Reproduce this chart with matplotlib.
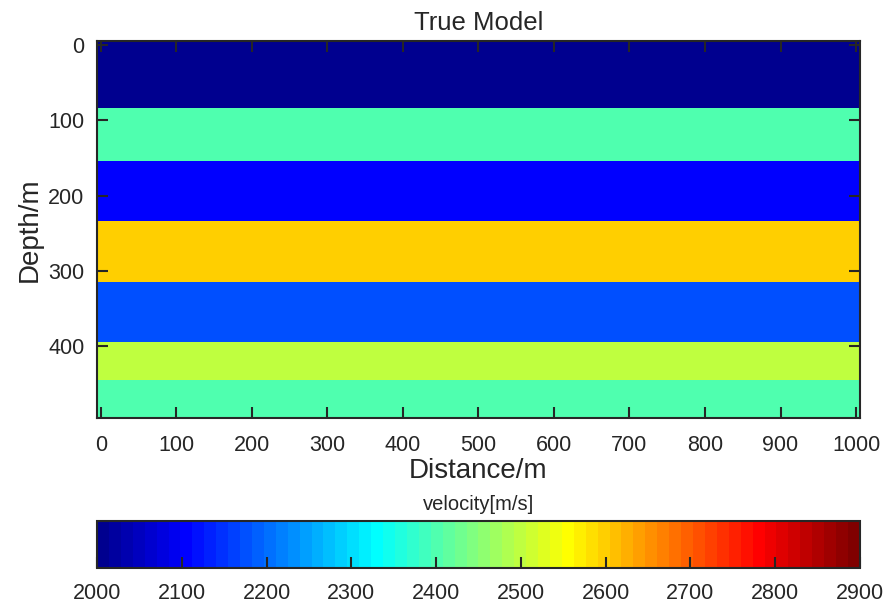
import numpy as np
import matplotlib.pyplot as plt
from matplotlib.colors import ListedColormap

#layered velocity model, 10 m grid
dx = 10
dz = 10
nx_max = 1000
nz_max = 490
#depth of the first grid row of each layer, and its velocity in m/s
layerTops = [0, 90, 160, 240, 320, 400, 450]
layerVel = [2000, 2400, 2100, 2600, 2180, 2500, 2400]

vmin = 2000
vmax = 2900
xTicks = [0, 100, 200, 300, 400, 500, 600, 700, 800, 900, 1000]
zTicks = [0, 100, 200, 300, 400]
cbTicks = [2000, 2100, 2200, 2300, 2400, 2500, 2600, 2700, 2800, 2900]


#matlab style jet with m entries
def matlabJet(m):
	n = int(np.ceil(m / 4))
	u = np.concatenate((np.arange(1, n + 1) / n, np.ones(n - 1), np.arange(n, 0, -1) / n))
	g = int(np.ceil(n / 2)) - (1 if m % 4 == 1 else 0) + np.arange(1, len(u) + 1)
	r = g + n
	b = g - n
	cmap = np.zeros((m, 3))
	keep = (r >= 1) & (r <= m)
	cmap[r[keep] - 1, 0] = u[keep]
	keep = (g >= 1) & (g <= m)
	cmap[g[keep] - 1, 1] = u[keep]
	keep = (b >= 1) & (b <= m)
	cmap[b[keep] - 1, 2] = u[keep]
	return ListedColormap(cmap)


#build the model grid
x = np.arange(0, nx_max + 1, dx)
z = np.arange(0, nz_max + 1, dz)
model = np.zeros((len(z), len(x)))
for top, vel in zip(layerTops, layerVel):
	model[z >= top, :] = vel

plt.rcParams['font.family'] = ['Liberation Sans', 'DejaVu Sans']
plt.rcParams['axes.linewidth'] = 1.5
plt.rcParams['axes.edgecolor'] = '#262626'
plt.rcParams['xtick.color'] = '#262626'
plt.rcParams['ytick.color'] = '#262626'
plt.rcParams['text.color'] = '#262626'
plt.rcParams['axes.labelcolor'] = '#262626'

fig = plt.figure(figsize=(8.85, 6.08), dpi=100)
ax = fig.add_axes([0.1096, 0.3125, 0.8620, 0.6201])
cax = fig.add_axes([0.1096, 0.0658, 0.8620, 0.0773])

extent = [x[0] - dx / 2, x[-1] + dx / 2, z[-1] + dz / 2, z[0] - dz / 2]
im = ax.imshow(model, cmap=matlabJet(64), vmin=vmin, vmax=vmax, extent=extent,
	aspect='auto', interpolation='nearest')

ax.set_xticks(xTicks)
ax.set_yticks(zTicks)
ax.tick_params(direction='in', length=8, width=1.5, top=True, right=True, labelsize=15.5)
ax.tick_params(axis='x', pad=12)
ax.tick_params(axis='y', pad=9)
ax.set_xlabel('Distance/m', fontsize=20, labelpad=2)
ax.set_ylabel('Depth/m', fontsize=20, labelpad=4)
ax.set_title('True Model', fontsize=18.5, pad=8)

cb = fig.colorbar(im, cax=cax, orientation='horizontal', ticks=cbTicks)
cb.outline.set_linewidth(1.5)
cb.outline.set_edgecolor('#262626')
cax.tick_params(direction='in', length=8, width=1.5, labelsize=15.5, pad=11)
cax.set_title('velocity[m/s]', fontsize=14.5, pad=8)

fig.savefig('out.png', dpi=100)
